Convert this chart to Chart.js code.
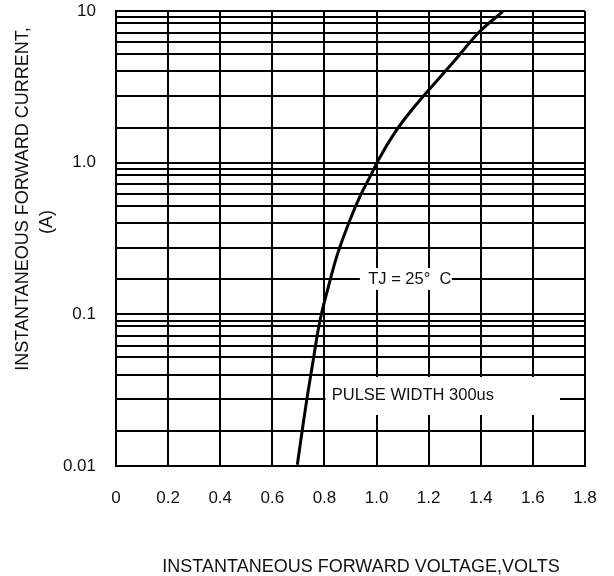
<!DOCTYPE html>
<html>
<head>
<meta charset="utf-8">
<script src="https://cdn.jsdelivr.net/npm/chart.js@4.4.1/dist/chart.umd.min.js"></script>
<style>
  body { margin: 0; background: #fff; }
  #wrap { width: 614px; height: 576px; }
</style>
</head>
<body>
<div id="wrap"><canvas id="chart-vf" width="614" height="576"></canvas></div>
<script>
// forward voltage (V) vs instantaneous forward current (A)
const voltage = [0.696, 0.713, 0.732, 0.757, 0.776, 0.789, 0.815, 0.847, 0.898, 0.936, 0.975, 1.007, 1.077, 1.135, 1.3, 1.393, 1.484];
const current = [0.0102, 0.0164, 0.0273, 0.050, 0.079, 0.1016, 0.152, 0.240, 0.419, 0.597, 0.809, 1.042, 1.643, 2.225, 4.72, 7.24, 9.9];

// axis ranges and tick labels
const xTicks = [0, 0.2, 0.4, 0.6, 0.8, 1.0, 1.2, 1.4, 1.6, 1.8];
const yDecades = [0.01, 0.1, 1, 10];
const yLabels = ['0.01', '0.1', '1.0', '10'];
// the printed grid puts its minor lines at these multiples inside each decade
const gridSteps = [1.7, 2.75, 4.0, 5.2, 6.2, 7.2, 8.35, 9.1];

const FONT = '"Liberation Sans", Arial, sans-serif';

let yGrid = [];
for (let d = 0; d < yDecades.length - 1; d++) {
    yGrid.push(yDecades[d]);
    gridSteps.forEach((m) => yGrid.push(+(yDecades[d] * m).toPrecision(4)));
}
yGrid.push(yDecades[yDecades.length - 1]);

const notes = [
    { text: 'TJ = 25°  C', x0: 0.936, x1: 1.289, y0: 0.145, y1: 0.202, tx: 0.968, ty: 0.171 },
    { text: 'PULSE WIDTH 300us', x0: 0.804, x1: 1.704, y0: 0.0217, y1: 0.0386, tx: 0.828, ty: 0.0294 }
];

const notesPlugin = {
    id: 'notes',
    beforeDatasetsDraw(chart) {
        const { ctx, scales: { x, y } } = chart;
        ctx.save();
        notes.forEach((n) => {
            const left = x.getPixelForValue(n.x0);
            const right = x.getPixelForValue(n.x1);
            const top = y.getPixelForValue(n.y1);
            const bottom = y.getPixelForValue(n.y0);
            ctx.fillStyle = '#fff';
            ctx.fillRect(left, top, right - left, bottom - top);
            ctx.fillStyle = '#111';
            ctx.font = '16.5px ' + FONT;
            ctx.textAlign = 'left';
            ctx.textBaseline = 'middle';
            ctx.fillText(n.text, x.getPixelForValue(n.tx), y.getPixelForValue(n.ty));
        });
        ctx.restore();
    },
    afterDraw(chart) {
        const ctx = chart.ctx;
        ctx.save();
        ctx.fillStyle = '#111';
        ctx.font = '18px ' + FONT;
        ctx.textAlign = 'center';
        ctx.textBaseline = 'middle';
        ctx.fillText('INSTANTANEOUS FORWARD VOLTAGE,VOLTS', 361, 567);
        ctx.translate(23.5, 199);
        ctx.rotate(-Math.PI / 2);
        ctx.fillText('INSTANTANEOUS FORWARD CURRENT,', 0, 0);
        ctx.fillText('(A)', -23, 23.5);
        ctx.restore();
    }
};

new Chart(document.getElementById('chart-vf'), {
    type: 'scatter',
    data: {
        datasets: [{
            label: 'TJ = 25°C',
            data: voltage.map((v, i) => ({ x: v, y: current[i] })),
            showLine: true,
            borderColor: '#000',
            borderWidth: 3,
            pointRadius: 0,
            tension: 0.4,
            cubicInterpolationMode: 'monotone'
        }]
    },
    options: {
        responsive: false,
        animation: false,
        layout: { padding: { top: 11, right: 29, left: 0, bottom: 0 } },
        plugins: {
            legend: { display: false },
            tooltip: { enabled: false }
        },
        scales: {
            x: {
                type: 'linear',
                min: xTicks[0],
                max: xTicks[xTicks.length - 1],
                afterBuildTicks(scale) {
                    scale.ticks = xTicks.map((v) => ({ value: v }));
                },
                afterFit(scale) {
                    scale.height = 110;
                    scale.paddingLeft = 0;
                    scale.paddingRight = 0;
                },
                grid: { color: '#000', lineWidth: 2, drawTicks: false },
                border: { color: '#000', width: 2 },
                ticks: {
                    padding: 22,
                    color: '#111',
                    font: { family: FONT, size: 17 },
                    callback: (v) => (v === 0 ? '0' : v.toFixed(1))
                }
            },
            y: {
                type: 'logarithmic',
                min: yDecades[0],
                max: yDecades[yDecades.length - 1],
                afterBuildTicks(scale) {
                    scale.ticks = yGrid.map((v) => ({ value: v, major: yDecades.includes(v) }));
                },
                afterFit(scale) {
                    scale.width = 116;
                    scale.paddingTop = 0;
                    scale.paddingBottom = 0;
                },
                grid: { color: '#000', lineWidth: 2, drawTicks: false },
                border: { color: '#000', width: 2 },
                ticks: {
                    autoSkip: false,
                    padding: 20,
                    color: '#111',
                    font: { family: FONT, size: 17 },
                    callback: (v) => {
                        const i = yDecades.indexOf(v);
                        return i >= 0 ? yLabels[i] : '';
                    }
                }
            }
        }
    },
    plugins: [notesPlugin]
});
</script>
</body>
</html>
